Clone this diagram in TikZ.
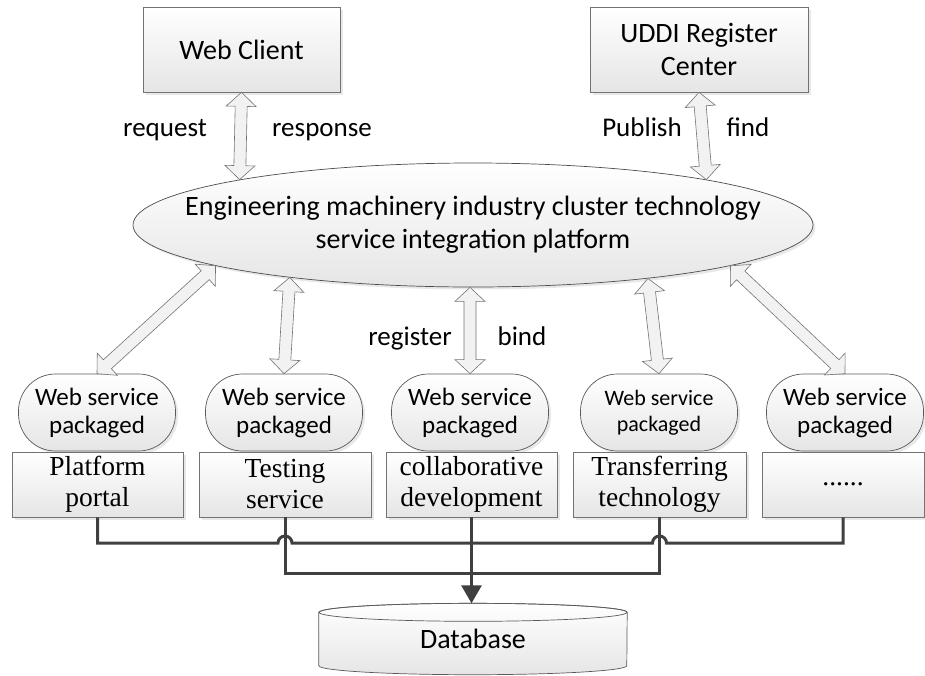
\documentclass[tikz,border=0pt]{standalone}
\usepackage{fontspec}
\setmainfont{Carlito}
\newfontfamily\tmsfont{Liberation Serif}
\usetikzlibrary{calc,shadows,arrows.meta,backgrounds,shapes.geometric}
\newcommand\blockarr[2]{%
  \filldraw[barrow] (#1)
  -- ($(#1)!14pt!(#2)!15pt!90:(#2)$)
  -- ($(#1)!14pt!(#2)!6pt!90:(#2)$)
  -- ($(#2)!14pt!(#1)!6pt!-90:(#1)$)
  -- ($(#2)!14pt!(#1)!15pt!-90:(#1)$)
  -- (#2)
  -- ($(#2)!14pt!(#1)!15pt!90:(#1)$)
  -- ($(#2)!14pt!(#1)!6pt!90:(#1)$)
  -- ($(#1)!14pt!(#2)!6pt!-90:(#2)$)
  -- ($(#1)!14pt!(#2)!15pt!-90:(#2)$)
  -- cycle;}
\tikzset{
  shad/.style={drop shadow={shadow xshift=2.5pt,shadow yshift=-2.5pt,fill=black!30,opacity=.3}},
  box/.style={rectangle, draw=black!55, line width=.7pt, top color=white, bottom color=black!10, inner sep=0pt, shad},
  topbox/.style={box, minimum height=85pt, font=\fontsize{28}{33}\selectfont, align=center},
  svc/.style={rectangle, rounded corners=37pt, draw=black!65, line width=.7pt, top color=white, bottom color=black!10, minimum width=157pt, minimum height=77pt, inner sep=0pt, align=center, font=\fontsize{25}{28}\selectfont, shad},
  unit/.style={box, minimum height=65pt, align=center, font=\tmsfont\fontsize{27.5}{31}\selectfont},
  ell/.style={ellipse, draw=black!70, line width=.7pt, top color=white, bottom color=black!10, inner sep=0pt, minimum width=680pt, minimum height=124pt, font=\fontsize{28}{33}\selectfont, shad},
  lbl/.style={font=\fontsize{27}{30}\selectfont, inner sep=0pt, anchor=base},
  barrow/.style={draw=black!55, line width=.6pt, fill=black!5, line join=miter},
  conn/.style={draw=black!75, line width=3pt},
}
\begin{document}
\begin{tikzpicture}[x=1pt,y=-1pt]
\useasboundingbox (0,0) rectangle (925,675);
\node[topbox, minimum width=197pt] (wc) at (241.5,49.5) {Web Client};
\node[topbox, minimum width=218pt] (uddi) at (699,49.5) {UDDI Register\\Center};
\node[ell] (plat) at (473,225) {\makebox[0pt]{\begin{tabular}{@{}c@{}}Engineering machinery industry cluster technology\\service integration platform\end{tabular}}};

\node[svc] (ws1) at (97,412.5) {Web service\\packaged};
\node[svc] (ws2) at (284,412.5) {Web service\\packaged};
\node[svc] (ws3) at (470,412.5) {Web service\\packaged};
\node[svc, font=\fontsize{22}{26}\selectfont] (ws4) at (659,412.5) {Web service\\packaged};
\node[svc] (ws5) at (845,412.5) {Web service\\packaged};

\node[unit, minimum width=171pt] (b1) at (97.5,484.5) {Platform\\portal};
\node[unit, minimum width=172pt] (b2) at (285,484.5) {Testing\\service};
\node[unit, minimum width=171pt] (b3) at (471.5,484.5) {collaborative\\development};
\node[unit, minimum width=173pt] (b4) at (659.5,484.5) {Transferring\\technology};
\node[unit, minimum width=162pt] (b5) at (843,484.5) {......};

\node[minimum width=308pt, minimum height=71pt, inner sep=0pt, font=\fontsize{28}{33}\selectfont] (db) at (473,639) {Database};
\begin{scope}[on background layer]
 \path[top color=white, bottom color=black!10, draw=black!65, line width=.7pt]
   ($(db.north west)+(0,9)$) -- ($(db.south west)+(0,-9)$)
   arc[start angle=180,end angle=360,x radius=154pt,y radius=9pt]
   -- ($(db.north east)+(0,9)$)
   arc[start angle=0,end angle=180,x radius=154pt,y radius=9pt] -- cycle;
 \draw[black!65, line width=.7pt] ($(db.north)+(0,9)$) ellipse[x radius=154pt,y radius=9pt];
\end{scope}

\node[lbl] (lreq) at (165,136) {request};
\node[lbl] (lres) at (322,136) {response};
\node[lbl] (lpub) at (642,136) {Publish};
\node[lbl] (lfind) at (748,136) {find};
\node[lbl] (lreg) at (410,345) {register};
\node[lbl] (lbind) at (522,345) {bind};

\blockarr{wc.south}{plat.169}
\blockarr{uddi.south}{plat.11}
\blockarr{plat.189}{ws1.north}
\blockarr{plat.196}{ws2.north}
\coordinate (p3) at (ws3.north |- plat.south);
\blockarr{p3}{ws3.north}
\blockarr{plat.343}{ws4.north}
\blockarr{plat.351}{ws5.north}

\coordinate (r1) at (0,543);
\coordinate (r2) at (0,573);
\draw[conn] (b1.south) |- ($(b2.south|-r1)+(-7,0)$) arc[start angle=180,end angle=0,radius=7pt]
  -- ($(b4.south|-r1)+(-7,0)$) arc[start angle=180,end angle=0,radius=7pt] -| (b5.south);
\draw[conn] (b2.south) |- (b4.south|-r2) -- (b4.south);
\draw[conn,-{Triangle[width=20pt,length=18pt]}] (b3.south) -- (b3.south|-db.north);
\end{tikzpicture}
\end{document}
